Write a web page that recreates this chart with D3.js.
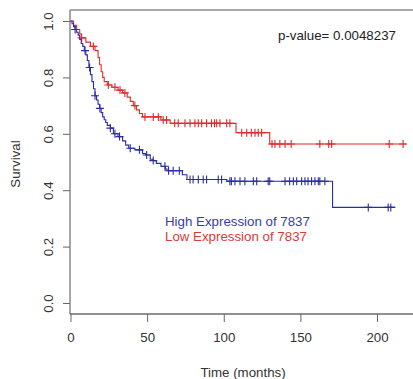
<!DOCTYPE html>
<html>
<head>
<meta charset="utf-8">
<script src="https://cdn.jsdelivr.net/npm/d3@7"></script>
<style>
  body { margin: 0; background: #fff; }
  text { font-family: "Liberation Sans", Arial, sans-serif; }
</style>
</head>
<body>
<div id="chart"></div>
<script>

// Kaplan-Meier steps (time in months, survival)
const highTimes = [0, 1, 2, 3, 4, 5, 6, 7, 8, 9, 10, 11, 12, 13, 14, 15, 16, 17, 18, 19, 20, 21, 22, 23, 24, 26, 28, 31, 34, 36, 38, 42, 47, 49, 52, 54, 56, 59, 62, 63, 73, 76, 102, 171];
const highSurv = [1.0, 0.99, 0.98, 0.97, 0.96, 0.95, 0.935, 0.92, 0.91, 0.895, 0.88, 0.86, 0.835, 0.81, 0.785, 0.76, 0.735, 0.72, 0.705, 0.69, 0.675, 0.66, 0.65, 0.64, 0.63, 0.62, 0.60, 0.59, 0.575, 0.56, 0.549, 0.543, 0.53, 0.525, 0.51, 0.505, 0.495, 0.485, 0.475, 0.469, 0.455, 0.438, 0.432, 0.339];
const highEnd = 212;
const highCensor = [3, 9.5, 12.5, 16, 19.2, 26, 29, 32, 39, 45, 49.7, 54, 61.6, 64, 67, 71, 78, 80, 83.4, 86.6, 88.8, 96.4, 98.6, 104, 105, 107.3, 110.6, 113.8, 119.3, 121.5, 129, 130, 140, 143, 145.4, 147.6, 150.8, 153, 155, 157.3, 159.5, 161.7, 162.7, 166, 194.3, 207.3, 209];

const lowTimes = [0, 2, 4, 6, 7, 10, 13, 16, 18, 19, 20, 21, 22, 24, 27, 31, 34, 37, 39, 41, 43, 45, 47, 59, 65, 108, 130];
const lowSurv = [1.0, 0.985, 0.97, 0.955, 0.94, 0.925, 0.91, 0.895, 0.87, 0.845, 0.82, 0.80, 0.785, 0.773, 0.765, 0.755, 0.745, 0.73, 0.715, 0.70, 0.685, 0.672, 0.66, 0.649, 0.637, 0.604, 0.564];
const lowEnd = 219;
const lowCensor = [7.3, 14.9, 24.7, 29, 32.3, 35.5, 42, 48.6, 54, 57.3, 60.5, 62.7, 68, 70.3, 74.7, 78, 81.2, 83.4, 85.6, 88.8, 92, 94, 95.4, 97.5, 101.9, 104, 111.7, 115, 118, 120.4, 122.5, 124.7, 131.5, 133.4, 136.6, 140, 144, 162.7, 168.5, 170.4, 208, 217];

const xTicks = [0, 50, 100, 150, 200];
const yTicks = [0, 0.2, 0.4, 0.6, 0.8, 1.0];
const legendLabels = ["High Expression of 7837", "Low Expression of 7837"];
const pValue = "p-value= 0.0048237";

const W = 413, H = 379;
const blue = "#2b2ba6", red = "#e02b2b";
const fs = 13.3;

const svg = d3.select("#chart").append("svg")
    .attr("width", W)
    .attr("height", H);

const x = d3.scaleLinear().domain([0, 200]).range([70.5, 377]);
const y = d3.scaleLinear().domain([0, 1]).range([303, 21]);

// box (left, top, bottom)
svg.append("line").attr("x1", 70).attr("x2", W).attr("y1", 10).attr("y2", 10)
    .attr("stroke", "#8a8a8a").attr("stroke-width", 1.5);
svg.append("line").attr("x1", 70).attr("x2", 70).attr("y1", 10).attr("y2", 314)
    .attr("stroke", "#8a8a8a").attr("stroke-width", 1.5);

// X axis
const xAxis = svg.append("g")
    .attr("transform", "translate(0,314)")
    .call(d3.axisBottom(x).tickValues(xTicks).tickSize(8).tickPadding(11).tickSizeOuter(0));
xAxis.select(".domain").attr("d", `M70,0H${W}`).attr("stroke", "#222");
xAxis.selectAll(".tick line").attr("stroke", "#666");
xAxis.selectAll(".tick text")
    .attr("font-size", fs).attr("fill", "#333")
    .attr("font-family", "Liberation Sans, Arial, sans-serif");

// Y axis
const yAxis = svg.append("g")
    .attr("transform", "translate(70,0)")
    .call(d3.axisLeft(y).tickValues(yTicks).tickFormat(d3.format(".1f")).tickSize(7).tickSizeOuter(0));
yAxis.select(".domain").remove();
yAxis.selectAll(".tick line").attr("stroke", "#666");
yAxis.selectAll(".tick text")
    .attr("font-size", fs).attr("fill", "#333")
    .attr("font-family", "Liberation Sans, Arial, sans-serif")
    .attr("text-anchor", "middle")
    .attr("dy", null)
    .attr("x", null)
    .attr("transform", "translate(-17,0) rotate(-90)")
    .attr("y", 0);

// axis titles
svg.append("text")
    .attr("x", 243).attr("y", 377)
    .attr("text-anchor", "middle")
    .attr("font-size", fs).attr("fill", "#333")
    .text("Time (months)");
svg.append("text")
    .attr("transform", "translate(20,164) rotate(-90)")
    .attr("text-anchor", "middle")
    .attr("font-size", fs).attr("fill", "#333")
    .text("Survival");

// step curve + censor marks
function survAt(times, surv, t) {
    const i = d3.bisectRight(times, t) - 1;
    return surv[Math.max(0, i)];
}

function drawCurve(times, surv, end, censor, colour) {
    const pts = times.map((t, i) => [t, surv[i]]);
    pts.push([end, surv[surv.length - 1]]);
    const line = d3.line()
        .x(d => x(d[0]))
        .y(d => y(d[1]))
        .curve(d3.curveStepAfter);
    svg.append("path")
        .datum(pts)
        .attr("d", line)
        .attr("fill", "none")
        .attr("stroke", colour)
        .attr("stroke-width", 1.1);

    const marks = svg.append("g");
    censor.forEach(t => {
        const cx = x(t), cy = y(survAt(times, surv, t));
        marks.append("path")
            .attr("d", `M${cx - 4},${cy}H${cx + 4}M${cx},${cy - 4}V${cy + 4}`)
            .attr("stroke", colour)
            .attr("stroke-width", 1.1);
    });
}

drawCurve(lowTimes, lowSurv, lowEnd, lowCensor, red);
drawCurve(highTimes, highSurv, highEnd, highCensor, blue);

// p-value
svg.append("text")
    .attr("x", 278).attr("y", 40)
    .attr("font-size", fs).attr("fill", "#222")
    .text(pValue);

// legend
const legendColours = ["#3a3ab0", "#d83a3a"];
svg.selectAll(".legend")
    .data(legendLabels)
    .enter().append("text")
    .attr("x", 165)
    .attr("y", (d, i) => 226 + i * 15)
    .attr("font-size", fs)
    .attr("fill", (d, i) => legendColours[i])
    .text(d => d);
</script>
</body>
</html>
